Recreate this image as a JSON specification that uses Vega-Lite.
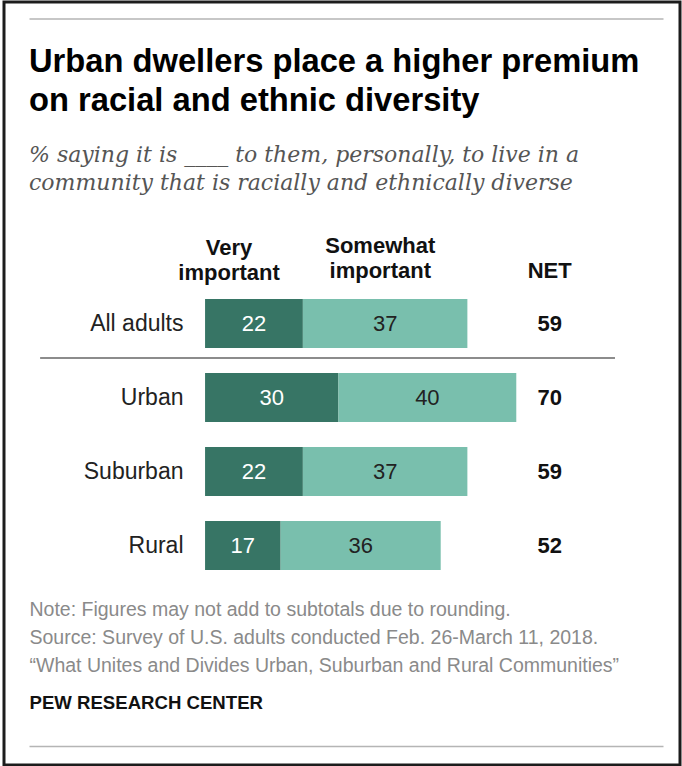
{
  "$schema": "https://vega.github.io/schema/vega-lite/v6.json",
  "width": 676,
  "height": 763,
  "autosize": {"type": "none"},
  "padding": {"left": 4, "top": 2, "right": 2, "bottom": 1},
  "background": "white",
  "config": {"view": {"stroke": "#1c1c1c", "strokeWidth": 3}},
  "title": {
    "text": ["Urban dwellers place a higher premium", "on racial and ethnic diversity"],
    "subtitle": ["% saying it is ____ to them, personally, to live in a", "community that is racially and ethnically diverse"],
    "orient": "top",
    "anchor": "start",
    "frame": "group",
    "offset": -192,
    "dx": 25,
    "font": "Liberation Sans",
    "fontSize": 32.7,
    "fontWeight": "bold",
    "color": "#000000",
    "lineHeight": 39,
    "subtitleFont": "DejaVu Serif",
    "subtitleFontStyle": "italic",
    "subtitleFontSize": 22,
    "subtitleColor": "#555555",
    "subtitleLineHeight": 28,
    "subtitlePadding": 27
  },
  "datasets": {
    "bars": [
      {"group": "All adults", "type": "Very important", "value": 22},
      {"group": "All adults", "type": "Somewhat important", "value": 37},
      {"group": "Urban", "type": "Very important", "value": 30},
      {"group": "Urban", "type": "Somewhat important", "value": 40},
      {"group": "Suburban", "type": "Very important", "value": 22},
      {"group": "Suburban", "type": "Somewhat important", "value": 37},
      {"group": "Rural", "type": "Very important", "value": 17},
      {"group": "Rural", "type": "Somewhat important", "value": 36}
    ],
    "nets": [
      {"group": "All adults", "net": 59},
      {"group": "Urban", "net": 70},
      {"group": "Suburban", "net": 59},
      {"group": "Rural", "net": 52}
    ]
  },
  "resolve": {"axis": {"x": "independent"}},
  "layer": [
    {
      "data": {"name": "bars"},
      "mark": {"type": "bar"},
      "encoding": {
        "y": {
          "field": "group", "type": "nominal", "title": "PEW RESEARCH CENTER",
          "sort": ["All adults", "Urban", "Suburban", "Rural"],
          "scale": {"range": [284.5, 580.5], "paddingInner": 0.338, "paddingOuter": 0.169, "align": 0.5},
          "axis": {
            "orient": "left", "offset": -201, "domain": false, "ticks": false, "grid": false,
            "labelFont": "Liberation Sans", "labelFontSize": 23, "labelColor": "#222222", "labelPadding": 22,
            "titleAngle": 0, "titleX": -176, "titleY": 706, "titleAlign": "left", "titleBaseline": "alphabetic",
            "titleFont": "Liberation Sans", "titleFontWeight": "bold", "titleFontSize": 18.6, "titleColor": "#111111"
          }
        },
        "x": {
          "field": "value", "type": "quantitative", "stack": "zero",
          "scale": {"domain": [-39.6, 103], "range": [25, 659], "nice": false, "zero": false},
          "axis": {
            "orient": "bottom", "offset": -19, "domain": true, "domainColor": "#b5b5b5", "domainWidth": 1.5,
            "ticks": false, "labels": false, "grid": false,
            "title": ["Note: Figures may not add to subtotals due to rounding.", "Source: Survey of U.S. adults conducted Feb. 26-March 11, 2018.", "“What Unites and Divides Urban, Suburban and Rural Communities”"],
            "titleX": 25, "titleY": -131, "titleAlign": "left", "titleAnchor": "start", "titleBaseline": "alphabetic",
            "titleFont": "Liberation Sans", "titleFontSize": 19.5, "titleFontWeight": "normal", "titleColor": "#8a8a8a", "titleLineHeight": 28
          }
        },
        "color": {
          "field": "type", "type": "nominal",
          "scale": {"domain": ["Very important", "Somewhat important"], "range": ["#377565", "#79bfad"]},
          "legend": null
        },
        "order": {"field": "type", "sort": "descending"}
      }
    },
    {
      "data": {"name": "bars"},
      "mark": {"type": "text", "font": "Liberation Sans", "fontSize": 22, "baseline": "middle", "align": "center"},
      "encoding": {
        "y": {"field": "group", "type": "nominal", "title": "PEW RESEARCH CENTER", "sort": ["All adults", "Urban", "Suburban", "Rural"]},
        "x": {
          "field": "value", "type": "quantitative", "stack": "zero", "bandPosition": 0.5,
          "axis": {
            "orient": "top", "offset": -16.5, "domain": true, "domainColor": "#b5b5b5", "domainWidth": 1.5,
            "ticks": false, "labels": false, "grid": false, "title": null
          }
        },
        "order": {"field": "type", "sort": "descending"},
        "text": {"field": "value", "type": "quantitative"},
        "color": {"condition": {"test": "datum.type === 'Very important'", "value": "#ffffff"}, "value": "#222222"}
      }
    },
    {
      "data": {"name": "nets"},
      "mark": {"type": "text", "font": "Liberation Sans", "fontSize": 22, "fontWeight": "bold", "baseline": "middle", "align": "center", "color": "#111111"},
      "encoding": {
        "y": {"field": "group", "type": "nominal", "title": "PEW RESEARCH CENTER", "sort": ["All adults", "Urban", "Suburban", "Rural"]},
        "x": {"datum": 77.5, "axis": null},
        "text": {"field": "net", "type": "quantitative"}
      }
    },
    {
      "data": {"name": "nets"},
      "transform": [{"filter": "datum.group === 'All adults'"}],
      "mark": {"type": "text", "text": ["Very", "important"], "font": "Liberation Sans", "fontSize": 22, "fontWeight": "bold", "baseline": "alphabetic", "align": "center", "lineHeight": 25, "dy": -68.5, "color": "#111111"},
      "encoding": {
        "y": {"field": "group", "type": "nominal", "title": "PEW RESEARCH CENTER", "sort": ["All adults", "Urban", "Suburban", "Rural"]},
        "x": {"datum": 5.4, "axis": null}
      }
    },
    {
      "data": {"name": "nets"},
      "transform": [{"filter": "datum.group === 'All adults'"}],
      "mark": {"type": "text", "text": ["Somewhat", "important"], "font": "Liberation Sans", "fontSize": 22, "fontWeight": "bold", "baseline": "alphabetic", "align": "center", "lineHeight": 25, "dy": -70.5, "color": "#111111"},
      "encoding": {
        "y": {"field": "group", "type": "nominal", "title": "PEW RESEARCH CENTER", "sort": ["All adults", "Urban", "Suburban", "Rural"]},
        "x": {"datum": 39.4, "axis": null}
      }
    },
    {
      "data": {"name": "nets"},
      "transform": [{"filter": "datum.group === 'All adults'"}],
      "mark": {"type": "text", "text": "NET", "font": "Liberation Sans", "fontSize": 22, "fontWeight": "bold", "baseline": "alphabetic", "align": "center", "dy": -45.5, "color": "#111111"},
      "encoding": {
        "y": {"field": "group", "type": "nominal", "title": "PEW RESEARCH CENTER", "sort": ["All adults", "Urban", "Suburban", "Rural"]},
        "x": {"datum": 77.5, "axis": null}
      }
    },
    {
      "data": {"name": "nets"},
      "transform": [{"filter": "datum.group === 'All adults'"}],
      "mark": {"type": "rule", "color": "#8c8c8c", "strokeWidth": 2, "yOffset": 34.5},
      "encoding": {
        "y": {"field": "group", "type": "nominal", "title": "PEW RESEARCH CENTER", "sort": ["All adults", "Urban", "Suburban", "Rural"]},
        "x": {"datum": -37.1, "axis": null},
        "x2": {"datum": 92.2}
      }
    }
  ]
}
